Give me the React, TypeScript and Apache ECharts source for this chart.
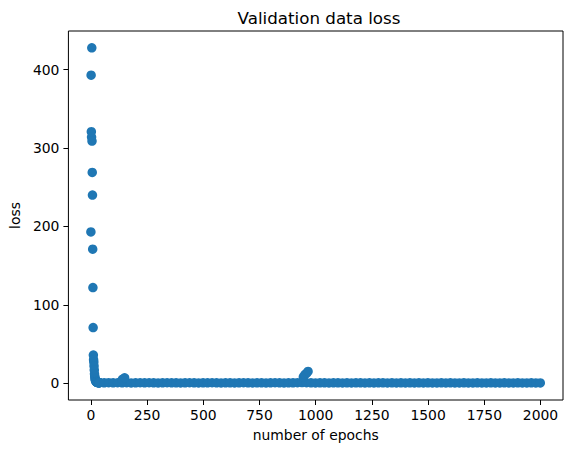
import React, { useEffect, useRef } from 'react';
import * as echarts from 'echarts';

// first epochs, one value per epoch (0..38)
const earlyLoss = [
    193, 393, 321, 314, 428, 309, 269, 240, 171, 122,
    71, 36, 30, 27, 22, 17, 12, 9, 7, 5,
    4, 3.2, 2.6, 2.1, 1.8, 1.6, 1.4, 1.3, 1.2, 1.1,
    1.0, 0.9, 0.9, 0.8, 0.8, 0.8, 0.7, 0.7, 0.7,
];

// plateau, sampled every 20 epochs from epoch 39 to 1999
const plateauStart = 39;
const plateauStep = 20;
const plateauLoss = [
    0.6, 0.5, 0.7, 0.5, 0.6, 0.5, 0.6, 0.4, 0.5, 0.6,
    0.5, 0.6, 0.5, 0.4, 0.5, 0.6, 0.5, 0.5, 0.4, 0.5,
    0.6, 0.5, 0.4, 0.5, 0.5, 0.6, 0.5, 0.4, 0.5, 0.5,
    0.4, 0.5, 0.6, 0.5, 0.4, 0.5, 0.5, 0.4, 0.5, 0.6,
    0.5, 0.4, 0.5, 0.5, 0.7, 0.9, 0.6, 0.5, 0.4, 0.5,
    0.5, 0.4, 0.5, 0.5, 0.4, 0.5, 0.4, 0.5, 0.5, 0.4,
    0.5, 0.4, 0.5, 0.5, 0.4, 0.5, 0.4, 0.5, 0.4, 0.5,
    0.4, 0.5, 0.4, 0.5, 0.4, 0.4, 0.5, 0.4, 0.5, 0.4,
    0.4, 0.5, 0.4, 0.4, 0.5, 0.4, 0.4, 0.5, 0.4, 0.4,
    0.5, 0.4, 0.4, 0.5, 0.4, 0.4, 0.5, 0.4, 0.4,
];

// the little bumps around epoch 150 and epoch 960
const spikeEpochs = [140, 150, 945, 952, 960, 966];
const spikeLoss = [5, 7, 8, 11, 13, 15];

const xTicks = [0, 250, 500, 750, 1000, 1250, 1500, 1750, 2000];
const yTicks = [0, 100, 200, 300, 400];

const FONT = 'DejaVu Sans';

export default function App() {
    const chartRef = useRef<HTMLDivElement>(null);

    useEffect(() => {
        if (!chartRef.current) return;
        const chart = echarts.init(chartRef.current, null, { renderer: 'svg' });

        const points: number[][] = [];
        earlyLoss.forEach((v, i) => points.push([i, v]));
        plateauLoss.forEach((v, i) => points.push([plateauStart + i * plateauStep, v]));
        spikeEpochs.forEach((e, i) => points.push([e, spikeLoss[i]]));

        const tickLabel = { color: '#000', fontFamily: FONT, fontSize: 13.9 };

        chart.setOption({
            animation: false,
            backgroundColor: '#fff',
            title: {
                text: 'Validation data loss',
                left: 314,
                top: 4,
                textAlign: 'center',
                textStyle: { fontFamily: FONT, fontSize: 16.7, fontWeight: 'normal', color: '#000' },
            },
            grid: {
                left: 66,
                top: 31,
                width: 497,
                height: 369,
                show: true,
                borderColor: '#000',
                borderWidth: 1,
                backgroundColor: 'transparent',
            },
            xAxis: {
                type: 'value',
                min: -100,
                max: 2100,
                name: 'number of epochs',
                nameLocation: 'middle',
                nameGap: 28,
                nameTextStyle: tickLabel,
                axisLine: { show: false, onZero: false },
                axisTick: { show: true, length: 5, customValues: xTicks, lineStyle: { color: '#000' } },
                axisLabel: {
                    ...tickLabel,
                    margin: 8,
                    customValues: xTicks,
                    formatter: (v: number) => String(v),
                },
                splitLine: { show: false },
            },
            yAxis: {
                type: 'value',
                min: -21.4,
                max: 449.4,
                name: 'loss',
                nameLocation: 'middle',
                nameGap: 42,
                nameTextStyle: tickLabel,
                axisLine: { show: false, onZero: false },
                axisTick: { show: true, length: 5, customValues: yTicks, lineStyle: { color: '#000' } },
                axisLabel: { ...tickLabel, margin: 9, customValues: yTicks },
                splitLine: { show: false },
            },
            series: [
                {
                    type: 'scatter',
                    data: points,
                    symbolSize: 9.5,
                    itemStyle: { color: '#1f77b4', opacity: 1 },
                },
            ],
        });

        return () => chart.dispose();
    }, []);

    return (
        <div
            ref={chartRef}
            style={{ position: 'fixed', left: 0, top: 0, width: 571, height: 453 }}
        />
    );
}
